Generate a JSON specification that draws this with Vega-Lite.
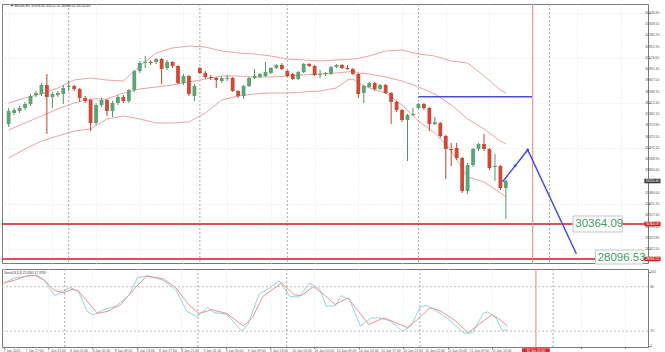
{
"$schema": "https://vega.github.io/schema/vega-lite/v6.json",
"background": "white",
"padding": {"left": 0, "top": 3, "right": 0, "bottom": 0},
"config": {"view": {"stroke": "#7a7a7a", "strokeWidth": 1}, "font": "Liberation Sans", "concat": {"spacing": 2}},
"datasets": {
"candles": [
{"i":0,"o":36844,"h":37881,"l":36650,"c":37686},{"i":1,"o":37557,"h":37881,"l":37427,"c":37751},{"i":2,"o":37686,"h":38010,"l":37557,"c":37881},{"i":3,"o":37881,"h":38270,"l":37751,"c":38140},{"i":4,"o":38140,"h":38788,"l":38010,"c":38658},{"i":5,"o":38723,"h":38982,"l":38594,"c":38853},{"i":6,"o":38788,"h":39501,"l":38658,"c":39371},{"i":7,"o":39371,"h":40084,"l":36196,"c":38594},{"i":8,"o":38594,"h":38918,"l":37881,"c":38788},{"i":9,"o":38723,"h":38982,"l":38594,"c":38853},
{"i":10,"o":38788,"h":39371,"l":38140,"c":39177},{"i":11,"o":39242,"h":39630,"l":38982,"c":39306},{"i":12,"o":39306,"h":39371,"l":38982,"c":39112},{"i":13,"o":39112,"h":39177,"l":38270,"c":38529},{"i":14,"o":38529,"h":38658,"l":38205,"c":38334},{"i":15,"o":38399,"h":38464,"l":36390,"c":36909},{"i":16,"o":36909,"h":38205,"l":36779,"c":38075},{"i":17,"o":38075,"h":38529,"l":37946,"c":38399},{"i":18,"o":38399,"h":38464,"l":37362,"c":37686},{"i":19,"o":37686,"h":38334,"l":37298,"c":38205},
{"i":20,"o":38205,"h":38723,"l":38075,"c":38594},{"i":21,"o":38594,"h":38723,"l":38205,"c":38334},{"i":22,"o":38334,"h":39112,"l":38205,"c":39047},{"i":23,"o":39047,"h":40343,"l":38918,"c":40278},{"i":24,"o":40278,"h":40926,"l":40149,"c":40797},{"i":25,"o":40797,"h":41250,"l":40473,"c":40862},{"i":26,"o":40862,"h":40991,"l":40667,"c":40797},{"i":27,"o":40862,"h":41121,"l":40732,"c":41056},{"i":28,"o":41056,"h":41121,"l":39436,"c":40408},{"i":29,"o":40473,"h":40991,"l":40343,"c":40862},
{"i":30,"o":40862,"h":40926,"l":40473,"c":40602},{"i":31,"o":40602,"h":40667,"l":39436,"c":39501},{"i":32,"o":39501,"h":40084,"l":39371,"c":39954},{"i":33,"o":39954,"h":40019,"l":38658,"c":38788},{"i":34,"o":38658,"h":39436,"l":38334,"c":39306},{"i":35,"o":40473,"h":40538,"l":40084,"c":40149},{"i":36,"o":40149,"h":40278,"l":39760,"c":39890},{"i":37,"o":39890,"h":40019,"l":39695,"c":39825},{"i":38,"o":39825,"h":39890,"l":39177,"c":39695},{"i":39,"o":39630,"h":39954,"l":39501,"c":39825},
{"i":40,"o":39760,"h":40019,"l":39630,"c":39825},{"i":41,"o":39825,"h":39890,"l":38918,"c":38982},{"i":42,"o":38982,"h":39047,"l":38529,"c":38658},{"i":43,"o":38658,"h":39371,"l":38464,"c":39306},{"i":44,"o":39306,"h":39890,"l":39242,"c":39825},{"i":45,"o":39825,"h":40408,"l":39760,"c":39954},{"i":46,"o":39890,"h":40149,"l":39825,"c":40084},{"i":47,"o":39954,"h":40862,"l":39890,"c":40214},{"i":48,"o":40149,"h":40538,"l":40084,"c":40473},{"i":49,"o":40473,"h":40732,"l":40408,"c":40667},
{"i":50,"o":40667,"h":40797,"l":40343,"c":40408},{"i":51,"o":40278,"h":40343,"l":39890,"c":39954},{"i":52,"o":40084,"h":40149,"l":39695,"c":39760},{"i":53,"o":39760,"h":40278,"l":39695,"c":40214},{"i":54,"o":40214,"h":40797,"l":40149,"c":40732},{"i":55,"o":40732,"h":40797,"l":40538,"c":40602},{"i":56,"o":40602,"h":40667,"l":39954,"c":40019},{"i":57,"o":40019,"h":40343,"l":39825,"c":40084},{"i":58,"o":40084,"h":40214,"l":39954,"c":40149},{"i":59,"o":40084,"h":40602,"l":40019,"c":40538},
{"i":60,"o":40538,"h":40732,"l":40473,"c":40667},{"i":61,"o":40667,"h":40732,"l":40408,"c":40473},{"i":62,"o":40473,"h":40667,"l":40343,"c":40408},{"i":63,"o":40408,"h":40473,"l":40019,"c":40084},{"i":64,"o":40084,"h":40149,"l":38529,"c":38788},{"i":65,"o":38853,"h":39371,"l":38205,"c":39306},{"i":66,"o":39242,"h":39566,"l":39177,"c":39501},{"i":67,"o":39501,"h":39566,"l":38982,"c":39112},{"i":68,"o":39112,"h":39436,"l":39047,"c":39371},{"i":69,"o":39371,"h":39436,"l":38788,"c":38853},
{"i":70,"o":38853,"h":38918,"l":36844,"c":38270},{"i":71,"o":38270,"h":38334,"l":37622,"c":37751},{"i":72,"o":37751,"h":37816,"l":36974,"c":37103},{"i":73,"o":37103,"h":37492,"l":34446,"c":37427},{"i":74,"o":37427,"h":37881,"l":37362,"c":37492},{"i":75,"o":37881,"h":38205,"l":37816,"c":38140},{"i":76,"o":38140,"h":38205,"l":37751,"c":37881},{"i":77,"o":37881,"h":37946,"l":36390,"c":36844},{"i":78,"o":36844,"h":37298,"l":36779,"c":36974},{"i":79,"o":36909,"h":36974,"l":35937,"c":36066},
{"i":80,"o":36066,"h":36131,"l":33280,"c":35224},{"i":81,"o":35224,"h":35613,"l":34122,"c":35159},{"i":82,"o":35289,"h":35613,"l":34511,"c":34641},{"i":83,"o":34641,"h":34706,"l":32373,"c":32502},{"i":84,"o":32502,"h":34317,"l":32308,"c":34187},{"i":85,"o":34187,"h":35289,"l":34058,"c":35224},{"i":86,"o":35224,"h":35613,"l":35094,"c":35548},{"i":87,"o":35548,"h":36196,"l":35094,"c":35224},{"i":88,"o":35224,"h":35289,"l":33863,"c":33993},{"i":89,"o":34058,"h":34900,"l":33150,"c":34122},
{"i":90,"o":34122,"h":34187,"l":32567,"c":32697},{"i":91,"o":32697,"h":33215,"l":30688,"c":33150}
],
"bands": [
{"i":0,"up":38205,"mid":36455,"lo":34641},{"i":3,"up":38529,"mid":36909,"lo":35224},{"i":6,"up":38788,"mid":37362,"lo":35742},{"i":9,"up":39177,"mid":37816,"lo":36066},{"i":12,"up":39695,"mid":38205,"lo":36390},{"i":15,"up":39825,"mid":38464,"lo":36520},{"i":18,"up":39695,"mid":38464,"lo":37168},{"i":21,"up":39630,"mid":38853,"lo":37362},{"i":24,"up":40602,"mid":39112,"lo":37168},{"i":27,"up":41445,"mid":39242,"lo":36909},{"i":30,"up":41769,"mid":39371,"lo":36909},{"i":33,"up":41898,"mid":39566,"lo":36974},{"i":36,"up":41834,"mid":39760,"lo":37557},{"i":39,"up":41574,"mid":39954,"lo":38399},{"i":42,"up":41445,"mid":39954,"lo":38658},{"i":45,"up":41380,"mid":39890,"lo":38788},{"i":48,"up":41250,"mid":39890,"lo":38853},{"i":51,"up":41056,"mid":39954,"lo":38853},{"i":54,"up":40991,"mid":40019,"lo":38918},{"i":57,"up":40926,"mid":40084,"lo":38982},{"i":60,"up":40991,"mid":40149,"lo":39177},{"i":62,"up":41021,"mid":40214,"lo":39695},{"i":63,"up":41056,"mid":40278,"lo":39760},{"i":64,"up":41100,"mid":40149,"lo":39500},{"i":66,"up":41250,"mid":40084,"lo":39177},{"i":69,"up":41574,"mid":39890,"lo":38853},{"i":72,"up":41639,"mid":39630,"lo":38075},{"i":75,"up":41380,"mid":39242,"lo":37038},{"i":78,"up":41250,"mid":38788,"lo":36261},{"i":81,"up":40926,"mid":38075,"lo":35094},{"i":84,"up":40797,"mid":37168,"lo":33410},{"i":87,"up":39954,"mid":36520,"lo":33086},{"i":90,"up":39047,"mid":35742,"lo":32373},{"i":91,"up":38853,"mid":35548,"lo":32114}
],
"seps": [{"i":11},{"i":35},{"i":51},{"i":75},{"i":99}],
"levels": [{"p":30364.09,"t":"30364.09"},{"p":28096.53,"t":"28096.53"}],
"ylab": [{"p":44036.8,"t":"44036.80"},{"p":43308.5,"t":"43308.50"},{"p":42580.2,"t":"42580.20"},{"p":41851.9,"t":"41851.90"},{"p":41123.6,"t":"41123.60"},{"p":40395.3,"t":"40395.30"},{"p":39667,"t":"39667.00"},{"p":38938.7,"t":"38938.70"},{"p":38210.4,"t":"38210.40"},{"p":37482.1,"t":"37482.10"},{"p":36753.8,"t":"36753.80"},{"p":36025.5,"t":"36025.50"},{"p":35297.2,"t":"35297.20"},{"p":34568.9,"t":"34568.90"},{"p":33840.6,"t":"33840.60"},{"p":32384,"t":"32384.00"},{"p":31655.7,"t":"31655.70"},{"p":30927.4,"t":"30927.40"},{"p":30199.1,"t":"30199.10"},{"p":29470.8,"t":"29470.80"},{"p":28742.5,"t":"28742.50"}],
"xlab": [{"i":0,"t":"7 Jan 2021"},{"i":4,"t":"7 Jan 17:00"},{"i":8,"t":"7 Jan 21:00"},{"i":12,"t":"8 Jan 01:00"},{"i":16,"t":"8 Jan 05:00"},{"i":20,"t":"8 Jan 09:00"},{"i":24,"t":"8 Jan 13:00"},{"i":28,"t":"8 Jan 17:00"},{"i":32,"t":"8 Jan 21:00"},{"i":36,"t":"9 Jan 01:00"},{"i":40,"t":"9 Jan 05:00"},{"i":44,"t":"9 Jan 09:00"},{"i":48,"t":"9 Jan 13:00"},{"i":52,"t":"10 Jan 01:00"},{"i":56,"t":"10 Jan 05:00"},{"i":60,"t":"10 Jan 09:00"},{"i":64,"t":"10 Jan 13:00"},{"i":68,"t":"10 Jan 17:00"},{"i":72,"t":"10 Jan 21:00"},{"i":76,"t":"11 Jan 01:00"},{"i":80,"t":"11 Jan 05:00"},{"i":84,"t":"11 Jan 09:00"},{"i":88,"t":"11 Jan 13:00"}],
"slab": [{"v":100,"t":"100"},{"v":80,"t":"80"},{"v":20,"t":"20"},{"v":0,"t":"0"}],
"stk": [{"i":0,"v":85},{"i":2,"v":92},{"i":6,"v":96},{"i":7.3,"v":89},{"i":9.2,"v":68},{"i":10.4,"v":73},{"i":12,"v":79},{"i":13.5,"v":74},{"i":15,"v":47},{"i":16.1,"v":42},{"i":18,"v":49},{"i":20.3,"v":54},{"i":22.6,"v":69},{"i":24.1,"v":92},{"i":26,"v":95},{"i":28.7,"v":89},{"i":31,"v":76},{"i":33,"v":47},{"i":34.8,"v":40},{"i":36.8,"v":52},{"i":37.9,"v":45},{"i":40.2,"v":43},{"i":42.9,"v":20},{"i":44,"v":29},{"i":46,"v":70},{"i":47.8,"v":78},{"i":49.7,"v":88},{"i":51.6,"v":67},{"i":53.2,"v":66},{"i":55.1,"v":85},{"i":57,"v":76},{"i":58.1,"v":54},{"i":59.7,"v":54},{"i":60.8,"v":68},{"i":62.3,"v":63},{"i":64.3,"v":27},{"i":66.2,"v":38},{"i":67.7,"v":38},{"i":69.6,"v":34},{"i":71.9,"v":20},{"i":73.4,"v":27},{"i":75,"v":52},{"i":76.1,"v":55},{"i":77.6,"v":49},{"i":79.9,"v":38},{"i":83,"v":17},{"i":84.5,"v":18},{"i":86.4,"v":44},{"i":87.2,"v":46},{"i":88.7,"v":38},{"i":89.8,"v":21},{"i":90.8,"v":22}],
"std": [{"i":0,"v":85},{"i":2,"v":89},{"i":4.3,"v":95},{"i":5.8,"v":95},{"i":7.3,"v":89},{"i":9.2,"v":75},{"i":10.8,"v":72},{"i":12.3,"v":77},{"i":13.5,"v":74},{"i":15,"v":61},{"i":16.9,"v":44},{"i":18.8,"v":47},{"i":21.1,"v":56},{"i":23.4,"v":76},{"i":25.7,"v":94},{"i":28.7,"v":91},{"i":31,"v":79},{"i":33.3,"v":56},{"i":35.2,"v":44},{"i":37.5,"v":49},{"i":40.2,"v":44},{"i":43.2,"v":27},{"i":44.8,"v":38},{"i":46.7,"v":67},{"i":50.1,"v":85},{"i":52.4,"v":69},{"i":53.6,"v":68},{"i":55.8,"v":80},{"i":57.8,"v":69},{"i":59.7,"v":56},{"i":62,"v":65},{"i":63.9,"v":47},{"i":65.8,"v":29},{"i":68.5,"v":38},{"i":71.5,"v":29},{"i":72.7,"v":25},{"i":74.6,"v":36},{"i":76.9,"v":52},{"i":78.8,"v":47},{"i":81.4,"v":34},{"i":83.7,"v":18},{"i":85.6,"v":29},{"i":87.9,"v":42},{"i":89,"v":38},{"i":90.8,"v":27}],
"path": [{"n":1,"i":90.4,"p":33105},{"n":2,"i":95.0,"p":35159},{"n":3,"i":103.9,"p":28439}],
"dots": [{"i":92.7,"p":34132},{"i":95.0,"p":35159}],
"resist": [{"i":75,"i2":95.9,"p":38613}],
"now": [{"i":95.9}],
"stlev": [{"v":20},{"v":80}],
"one": [{}]
},
"vconcat": [
{
"width": 646, "height": 259,
"layer": [
{"data": {"name": "bands"}, "mark": {"type": "line", "color": "#eba3a3", "strokeWidth": 1},
 "encoding": {
  "x": {"field": "i", "type": "quantitative", "scale": {"domain": [-0.3, 116.1], "nice": false, "zero": false},
        "axis": {"values": [0,4,8,12,16,20,24,28,32,36,40,44,48,52,56,60,64,68,72,76,80,84,88,92,96,100,104,108,112,116], "labels": false, "ticks": false, "domain": false, "grid": true, "gridColor": "#e6e6e6", "gridDash": [1,2], "title": null, "minExtent": 0, "maxExtent": 0, "offset": 0}},
  "y": {"field": "up", "type": "quantitative", "scale": {"domain": [27836.8, 44619.8], "nice": false, "zero": false},
        "axis": {"orient": "right", "values": [44036.8,43308.5,42580.2,41851.9,41123.6,40395.3,39667,38938.7,38210.4,37482.1,36753.8,36025.5,35297.2,34568.9,33840.6,32384,31655.7,30927.4,30199.1,29470.8,28742.5], "labels": false, "tickSize": 2, "tickColor": "#777", "domain": false, "grid": true, "gridColor": "#e6e6e6", "gridDash": [1,2], "title": null, "minExtent": 0}}
 }},
{"data": {"name": "bands"}, "mark": {"type": "line", "color": "#eba3a3", "strokeWidth": 1},
 "encoding": {"x": {"field": "i", "type": "quantitative"}, "y": {"field": "mid", "type": "quantitative", "axis": {"title": null}}}},
{"data": {"name": "bands"}, "mark": {"type": "line", "color": "#eba3a3", "strokeWidth": 1},
 "encoding": {"x": {"field": "i", "type": "quantitative"}, "y": {"field": "lo", "type": "quantitative", "axis": {"title": null}}}},
{"data": {"name": "seps"}, "mark": {"type": "rule", "color": "#a8a8a8", "strokeDash": [2,2], "strokeWidth": 1},
 "encoding": {"x": {"field": "i", "type": "quantitative"}}},
{"data": {"name": "candles"}, "mark": {"type": "rule", "strokeWidth": 1},
 "encoding": {"x": {"field": "i", "type": "quantitative"}, "y": {"field": "l", "type": "quantitative", "axis": {"title": null}}, "y2": {"field": "h"},
  "color": {"condition": {"test": "datum.c >= datum.o", "value": "#4f9566"}, "value": "#c2432e"}}},
{"data": {"name": "candles"}, "mark": {"type": "bar", "size": 3.8, "stroke": null},
 "encoding": {"x": {"field": "i", "type": "quantitative"}, "y": {"field": "o", "type": "quantitative", "axis": {"title": null}}, "y2": {"field": "c"},
  "color": {"condition": {"test": "datum.c >= datum.o", "value": "#5ca474"}, "value": "#cd4a34"}}},
{"data": {"name": "levels"}, "mark": {"type": "rule", "color": "#c81e1e", "strokeWidth": 1.6},
 "encoding": {"y": {"field": "p", "type": "quantitative", "axis": {"title": null}}}},
{"data": {"name": "resist"}, "mark": {"type": "rule", "color": "#4b4bd6", "strokeWidth": 1.5},
 "encoding": {"x": {"field": "i", "type": "quantitative"}, "x2": {"field": "i2"}, "y": {"field": "p", "type": "quantitative", "axis": {"title": null}}}},
{"data": {"name": "now"}, "mark": {"type": "rule", "color": "#ec8a8a", "strokeWidth": 1},
 "encoding": {"x": {"field": "i", "type": "quantitative"}}},
{"data": {"name": "path"}, "mark": {"type": "line", "color": "#4b4bd6", "strokeWidth": 1.5, "clip": false},
 "encoding": {"x": {"field": "i", "type": "quantitative"}, "y": {"field": "p", "type": "quantitative", "axis": {"title": null}}, "order": {"field": "n"}}},
{"data": {"name": "dots"}, "mark": {"type": "circle", "color": "#4b4bd6", "size": 8, "opacity": 1},
 "encoding": {"x": {"field": "i", "type": "quantitative"}, "y": {"field": "p", "type": "quantitative", "axis": {"title": null}}}},
{"data": {"name": "one"}, "mark": {"type": "rect", "fill": "white", "stroke": "#b8cdbf", "strokeWidth": 1, "clip": false},
 "encoding": {"x": {"datum": 103.3}, "x2": {"datum": 112.3}, "y": {"datum": 30882}, "y2": {"datum": 29846}}},
{"data": {"name": "one"}, "mark": {"type": "rect", "fill": "white", "stroke": "#b8cdbf", "strokeWidth": 1, "clip": false},
 "encoding": {"x": {"datum": 107.4}, "x2": {"datum": 116.1}, "y": {"datum": 28679}, "y2": {"datum": 27771}}},
{"data": {"name": "one"}, "mark": {"type": "text", "text": "30364.09", "color": "#3f9a63", "fontSize": 11.5, "align": "left", "baseline": "middle", "clip": false},
 "encoding": {"x": {"datum": 103.7}, "y": {"datum": 30364.09}}},
{"data": {"name": "one"}, "mark": {"type": "text", "text": "28096.53", "color": "#3f9a63", "fontSize": 11.5, "align": "left", "baseline": "middle", "clip": false},
 "encoding": {"x": {"datum": 107.8}, "y": {"datum": 28160}}},
{"data": {"name": "ylab"}, "mark": {"type": "text", "color": "#555", "fontSize": 3.4, "align": "left", "baseline": "middle", "clip": false},
 "encoding": {"x": {"datum": 116.5}, "y": {"field": "p", "type": "quantitative", "axis": {"title": null}}, "text": {"field": "t"}}},
{"data": {"name": "levels"}, "mark": {"type": "rect", "color": "#d42020", "clip": false, "height": 4.6},
 "encoding": {"x": {"datum": 116.35}, "x2": {"datum": 119.3}, "y": {"field": "p", "type": "quantitative", "axis": {"title": null}}}},
{"data": {"name": "levels"}, "mark": {"type": "text", "color": "white", "fontSize": 3.2, "align": "left", "baseline": "middle", "clip": false},
 "encoding": {"x": {"datum": 116.6}, "y": {"field": "p", "type": "quantitative", "axis": {"title": null}}, "text": {"field": "t"}}},
{"data": {"name": "one"}, "mark": {"type": "rect", "color": "#3c3c3c", "clip": false, "height": 4.6},
 "encoding": {"x": {"datum": 116.35}, "x2": {"datum": 119.3}, "y": {"datum": 33150.4}}},
{"data": {"name": "one"}, "mark": {"type": "text", "text": "33150.40", "color": "white", "fontSize": 3.2, "align": "left", "baseline": "middle", "clip": false},
 "encoding": {"x": {"datum": 116.6}, "y": {"datum": 33150.4}}},
{"data": {"name": "one"}, "mark": {"type": "text", "text": "\u25bc Bitcoin,H1  32696.80 33215.20 30688.00 33150.40", "color": "#333", "fontSize": 3.4, "align": "left", "baseline": "middle"},
 "encoding": {"x": {"datum": 0.3}, "y": {"datum": 44490}}}
]
},
{
"width": 646, "height": 78,
"layer": [
{"data": {"name": "stk"}, "mark": {"type": "line", "color": "#8fd5df", "strokeWidth": 1},
 "encoding": {
  "x": {"field": "i", "type": "quantitative", "scale": {"domain": [-0.3, 116.1], "nice": false, "zero": false},
        "axis": {"values": [0,4,8,12,16,20,24,28,32,36,40,44,48,52,56,60,64,68,72,76,80,84,88,92,96,100,104,108,112,116], "labels": false, "tickSize": 1.5, "tickColor": "#777", "domain": false, "grid": true, "gridColor": "#e6e6e6", "gridDash": [1,2], "title": null, "minExtent": 0}},
  "y": {"field": "v", "type": "quantitative", "scale": {"domain": [-1.3, 104], "nice": false, "zero": false},
        "axis": {"orient": "right", "values": [0,20,80,100], "labels": false, "tickSize": 2, "tickColor": "#777", "domain": false, "grid": false, "title": null, "minExtent": 0}}
 }},
{"data": {"name": "std"}, "mark": {"type": "line", "color": "#ee9090", "strokeWidth": 1},
 "encoding": {"x": {"field": "i", "type": "quantitative"}, "y": {"field": "v", "type": "quantitative", "axis": {"title": null}}}},
{"data": {"name": "stlev"}, "mark": {"type": "rule", "color": "#bdbdbd", "strokeDash": [2,2], "strokeWidth": 1},
 "encoding": {"y": {"field": "v", "type": "quantitative", "axis": {"title": null}}}},
{"data": {"name": "seps"}, "mark": {"type": "rule", "color": "#a8a8a8", "strokeDash": [2,2], "strokeWidth": 1},
 "encoding": {"x": {"field": "i", "type": "quantitative"}}},
{"data": {"name": "now"}, "mark": {"type": "rule", "color": "#ec8a8a", "strokeWidth": 1},
 "encoding": {"x": {"field": "i", "type": "quantitative"}}},
{"data": {"name": "slab"}, "mark": {"type": "text", "color": "#555", "fontSize": 3.4, "align": "left", "baseline": "middle", "clip": false},
 "encoding": {"x": {"datum": 116.5}, "y": {"field": "v", "type": "quantitative", "axis": {"title": null}}, "text": {"field": "t"}}},
{"data": {"name": "xlab"}, "mark": {"type": "text", "color": "#555", "fontSize": 3.4, "align": "left", "baseline": "top", "clip": false},
 "encoding": {"x": {"field": "i", "type": "quantitative"}, "y": {"datum": -3.6}, "text": {"field": "t"}}},
{"data": {"name": "one"}, "mark": {"type": "rect", "color": "#e02a2a", "clip": false},
 "encoding": {"x": {"datum": 93.4}, "x2": {"datum": 98.4}, "y": {"datum": -3.0}, "y2": {"datum": -9.0}}},
{"data": {"name": "one"}, "mark": {"type": "text", "text": "11 Jan 21:00", "color": "white", "fontSize": 3.2, "align": "center", "baseline": "middle", "clip": false},
 "encoding": {"x": {"datum": 95.9}, "y": {"datum": -6.0}}},
{"data": {"name": "one"}, "mark": {"type": "text", "text": "Stoch(14,3,3) 22.4561 27.3789", "color": "#333", "fontSize": 3, "align": "left", "baseline": "middle"},
 "encoding": {"x": {"datum": 0.1}, "y": {"datum": 99}}}
]
}
]
}
